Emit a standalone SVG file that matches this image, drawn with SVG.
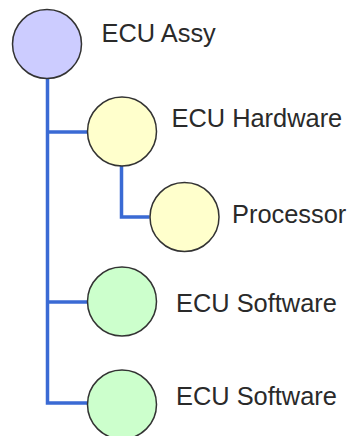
<svg xmlns="http://www.w3.org/2000/svg" width="348" height="436" viewBox="0 0 348 436">
<style>
.n{stroke:#333;stroke-width:1.5}
.a{fill:#ccccff}
.h{fill:#ffffcc}
.s{fill:#ccffcc}
.c{fill:none;stroke:#3a6ad4;stroke-width:3.5}
text{font-family:"Liberation Sans",Arial,sans-serif;font-size:25.4px;fill:#2a2a2a}
</style>
<rect width="348" height="436" fill="#fff"/>
<g id="connectors">
<polyline class="c" points="47.5,78 47.5,403 87,403"/>
<line class="c" x1="47.5" y1="132" x2="87.5" y2="132"/>
<line class="c" x1="47.5" y1="302" x2="87" y2="302"/>
<polyline class="c" points="121.5,165 121.5,217 149.5,217"/>
</g>
<g id="ecu-assy"><circle class="n a" cx="47" cy="44" r="34.5"/><text x="101.5" y="42.3">ECU Assy</text></g>
<g id="ecu-hardware"><circle class="n h" cx="122" cy="131.5" r="34.5"/><text x="171.5" y="126.7">ECU Hardware</text></g>
<g id="processor"><circle class="n h" cx="184.5" cy="217" r="34.5"/><text x="232" y="223.3">Processor</text></g>
<g id="ecu-software-1"><circle class="n s" cx="122" cy="301.5" r="34.5"/><text x="176" y="311.7">ECU Software</text></g>
<g id="ecu-software-2"><circle class="n s" cx="122" cy="404.5" r="34.5"/><text x="176" y="405">ECU Software</text></g>
</svg>
